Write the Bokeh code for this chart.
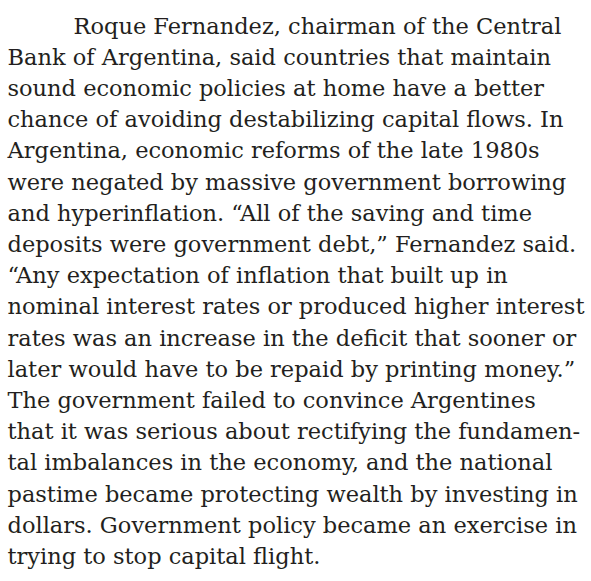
from bokeh.plotting import figure
from bokeh.models import Range1d, ColumnDataSource
from bokeh.core.properties import value
from bokeh.embed import file_html
from bokeh.resources import INLINE

lines = [
    "Roque Fernandez, chairman of the Central",
    "Bank of Argentina, said countries that maintain",
    "sound economic policies at home have a better",
    "chance of avoiding destabilizing capital flows. In",
    "Argentina, economic reforms of the late 1980s",
    "were negated by massive government borrowing",
    "and hyperinflation. \u201cAll of the saving and time",
    "deposits were government debt,\u201d Fernandez said.",
    "\u201cAny expectation of inflation that built up in",
    "nominal interest rates or produced higher interest",
    "rates was an increase in the deficit that sooner or",
    "later would have to be repaid by printing money.\u201d",
    "The government failed to convince Argentines",
    "that it was serious about rectifying the fundamen-",
    "tal imbalances in the economy, and the national",
    "pastime became protecting wealth by investing in",
    "dollars. Government policy became an exercise in",
    "trying to stop capital flight.",
]
indented = [True] + [False] * (len(lines) - 1)

W, H = 591, 581
LINE_PX = 31.2
TOP_PX = 25.0
LEFT_PX = 7.0
INDENT_PX = 66.0

line_no = list(range(len(lines)))
xs = [LEFT_PX + (INDENT_PX if ind else 0.0) for ind in indented]

src = ColumnDataSource(dict(x=xs, y=line_no, text=lines))

top = -TOP_PX / LINE_PX
bottom = top + H / LINE_PX

p = figure(width=W, height=H, output_backend="svg", toolbar_location=None,
           title=None,
           x_range=Range1d(0, W), y_range=Range1d(bottom, top),
           min_border=0, outline_line_color=None)
p.axis.visible = False
p.grid.visible = False
p.background_fill_color = "white"
p.border_fill_color = "white"

p.text(x="x", y="y", text="text", source=src,
       text_font=value("DejaVu Serif"), text_font_size="22.5px",
       text_color="#231f20", text_baseline="alphabetic", text_align="left")

open("out.html", "w").write(file_html(p, INLINE))
